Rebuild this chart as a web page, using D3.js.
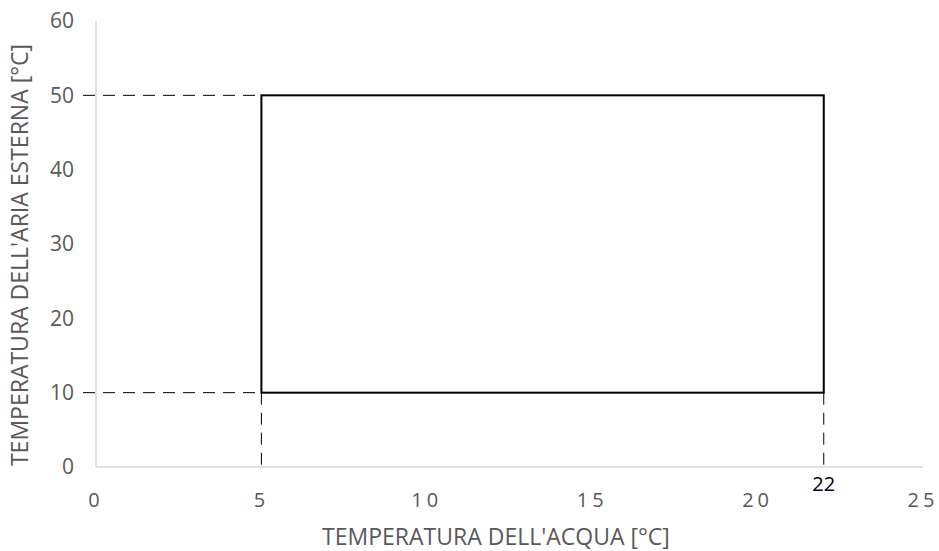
<!DOCTYPE html>
<html>
<head>
<meta charset="utf-8">
<script src="https://cdn.jsdelivr.net/npm/d3@7"></script>
<style>
  body { margin: 0; background: #fff; }
  svg { display: block; font-family: "Open Sans", sans-serif; }
  .tick-label { fill: #595959; font-size: 21px; }
  .axis-title { fill: #595959; font-size: 23px; }
</style>
</head>
<body>
<svg id="chart"></svg>
<script>
const width = 939;
const height = 551;
const margin = { top: 21, right: 16, bottom: 84, left: 96 };

// operating envelope: water temp (x) vs outside air temp (y)
const waterRange = [5, 22];
const airRange = [10, 50];
const xTicks = [0, 5, 10, 15, 20, 25];
const yTicks = [0, 10, 20, 30, 40, 50, 60];
const xTitle = "TEMPERATURA DELL'ACQUA [°C]";
const yTitle = "TEMPERATURA DELL'ARIA ESTERNA [°C]";
const extraLabel = 22;

const svg = d3.select("#chart").attr("width", width).attr("height", height);

const x = d3.scaleLinear().domain([0, 25]).range([margin.left, width - margin.right]);
const y = d3.scaleLinear().domain([0, 60]).range([height - margin.bottom, margin.top]);

// axes lines
svg.append("line")
  .attr("x1", x(0)).attr("x2", x(0))
  .attr("y1", y(60)).attr("y2", y(0))
  .attr("stroke", "#d9d9d9").attr("stroke-width", 1.5);
svg.append("line")
  .attr("x1", x(0)).attr("x2", x(25))
  .attr("y1", y(0)).attr("y2", y(0))
  .attr("stroke", "#d9d9d9").attr("stroke-width", 1.5);

// tick labels
svg.append("g")
  .selectAll("text")
  .data(yTicks)
  .join("text")
  .attr("class", "tick-label")
  .attr("x", x(0) - 22)
  .attr("y", (d) => y(d))
  .attr("dy", "0.35em")
  .attr("text-anchor", "end")
  .text((d) => d);

svg.append("g")
  .selectAll("text")
  .data(xTicks)
  .join("text")
  .attr("class", "tick-label")
  .attr("font-size", 20)
  .style("font-size", "20px")
  .attr("x", (d) => x(d))
  .attr("y", y(0) + 33)
  .attr("dy", "0.35em")
  .attr("text-anchor", "middle")
  .attr("letter-spacing", "4px")
  .text((d) => d);

svg.append("text")
  .attr("x", x(extraLabel))
  .attr("y", y(0) + 17)
  .attr("dy", "0.35em")
  .attr("text-anchor", "middle")
  .attr("fill", "#000")
  .attr("font-size", 20)
  .text(extraLabel);

// dashed guides
const dash = "12,8";
const guides = svg.append("g").attr("stroke", "#000").attr("stroke-width", 1).attr("stroke-dasharray", dash);
airRange.forEach((v) => {
  guides.append("line")
    .attr("x1", x(0) - 13).attr("x2", x(waterRange[0]))
    .attr("y1", y(v)).attr("y2", y(v));
});
waterRange.forEach((v) => {
  guides.append("line")
    .attr("x1", x(v)).attr("x2", x(v))
    .attr("y1", y(airRange[0])).attr("y2", y(0));
});

// envelope rectangle
svg.append("rect")
  .attr("x", x(waterRange[0]))
  .attr("y", y(airRange[1]))
  .attr("width", x(waterRange[1]) - x(waterRange[0]))
  .attr("height", y(airRange[0]) - y(airRange[1]))
  .attr("fill", "none")
  .attr("stroke", "#000")
  .attr("stroke-width", 2);

// axis titles
svg.append("text")
  .attr("class", "axis-title")
  .attr("x", 496)
  .attr("y", 537)
  .attr("dy", "0.35em")
  .attr("text-anchor", "middle")
  .text(xTitle);
svg.append("text")
  .attr("class", "axis-title")
  .attr("transform", "translate(20,255) rotate(-90)")
  .attr("dy", "0.35em")
  .attr("text-anchor", "middle")
  .text(yTitle);
</script>
</body>
</html>
